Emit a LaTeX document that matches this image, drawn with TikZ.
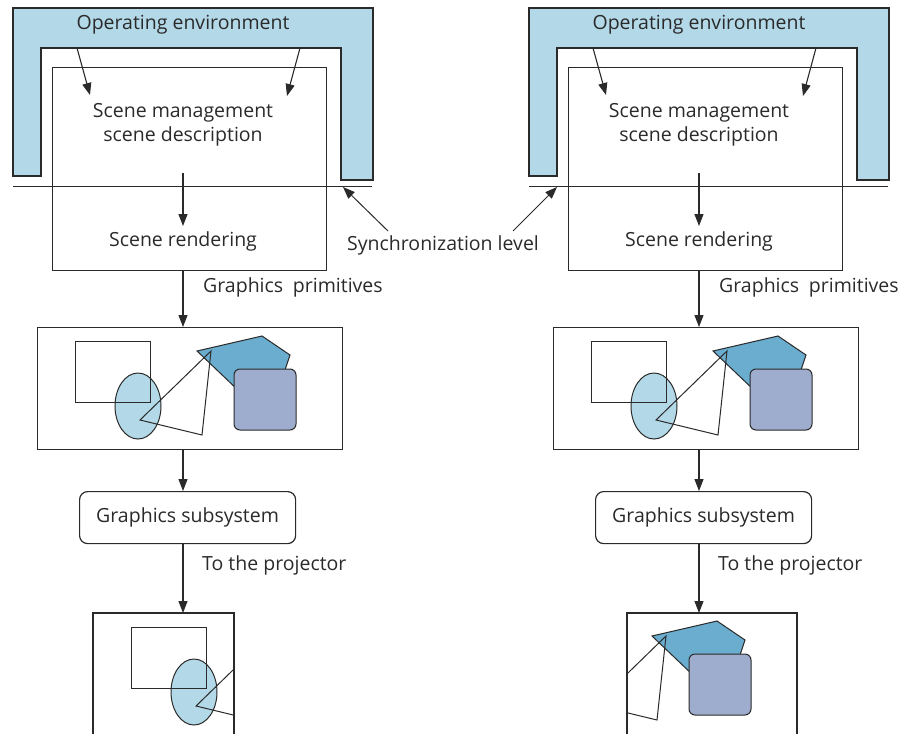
\documentclass[tikz,border=0pt]{standalone}
\usepackage{fontspec}
\setmainfont{Open Sans}
\usetikzlibrary{arrows.meta}

\definecolor{ink}{HTML}{2A2A2A}
\definecolor{envblue}{HTML}{B3D8E7}
\definecolor{ovalblue}{HTML}{B3D9E8}
\definecolor{polyblue}{HTML}{6AADCE}
\definecolor{squareblue}{HTML}{9EADCE}

\tikzset{
  outline/.style={draw=ink, line width=1.2pt},
  framebox/.style={outline, fill=white, inner sep=0pt, anchor=north west},
  lbl/.style={font=\fontsize{19.5}{24}\selectfont, text=ink, inner sep=0pt, align=center},
  arr/.style={draw=ink, line width=1.1pt, -{Triangle[length=12pt,width=9pt]}},
  thin/.style={draw=ink, line width=1pt},
}

% the sample scene of four primitives, in the coordinates of the left panel
\newcommand\scenegfx{%
  \fill[ovalblue] (138,406) ellipse [x radius=23, y radius=33];
  \draw[thin] (138,406) ellipse [x radius=23, y radius=33];
  \draw[thin] (75,341) rectangle (150,402);
  \draw[thin, fill=polyblue] (197,351) -- (262,336) -- (290,355) -- (280,385) -- (240,392) -- cycle;
  \draw[thin] (140,420) -- (211,351) -- (202,435) -- cycle;
  \draw[thin, fill=squareblue, rounded corners=6] (234,369) rectangle (296,430);
}

% one complete pipeline column; #1 is the prefix of its node names
\newcommand\pipeline[1]{%
  % operating environment frame
  \draw[outline, fill=envblue] (13,8) -- (373,8) -- (373,180) -- (341,180) -- (341,48)
        -- (41,48) -- (41,176) -- (13,176) -- cycle;
  \node[lbl] (#1env) at (183,25) {Operating environment};
  % synchronization line
  \coordinate (#1syl) at (13,186);
  \coordinate (#1syr) at (372,186);
  \draw[thin] (#1syl) -- (#1syr);
  % application box
  \node[framebox, fill=none, minimum width=274pt, minimum height=203pt] (#1app) at (52,67) {};
  \node[lbl] (#1mgmt) at (183,125) {Scene management\\scene description};
  \node[lbl] (#1rend) at (183,241) {Scene rendering};
  \coordinate (#1ax) at (183,0);
  \coordinate (#1ua) at (77,48);  \coordinate (#1ub) at (90,95);
  \coordinate (#1uc) at (300,48); \coordinate (#1ud) at (287,96);
  \draw[arr] (#1ua) -- (#1ub);
  \draw[arr] (#1uc) -- (#1ud);
  \coordinate (#1ma) at (183,173);
  \coordinate (#1mb) at (183,226);
  \draw[arr] (#1ma) -- (#1mb);
  % rendered frame
  \node[framebox, minimum width=305pt, minimum height=122pt] (#1pic) at (37,327) {};
  \scenegfx
  \draw[arr] (#1app.south -| #1ax) -- (#1pic.north -| #1ax);
  \node[lbl, anchor=west] (#1prim) at (203,287) {Graphics\hspace{0.5em}primitives};
  % graphics subsystem
  \node[framebox, rounded corners=8pt, minimum width=216pt, minimum height=52pt] (#1gfx) at (79,491) {};
  \node[lbl] at (#1gfx.center) {Graphics subsystem};
  \draw[arr] (#1pic.south -| #1ax) -- (#1gfx.north -| #1ax);
  \node[lbl, anchor=west] (#1proj) at (202,565) {To the projector};
}

\begin{document}
\begin{tikzpicture}[x=1pt, y=-1pt]
  \useasboundingbox (0,0) rectangle (916,734);

  % left column
  \pipeline{l}
  % projected view, left
  \begin{scope}
    \clip (93,613) rectangle (234,734);
    \begin{scope}[shift={(56,286)}] \scenegfx \end{scope}
  \end{scope}
  \coordinate (lva) at (93,734); \coordinate (lvb) at (93,613);
  \coordinate (lvc) at (234,613); \coordinate (lvd) at (234,734);
  \draw[outline] (lva) -- (lvb) -- (lvc) -- (lvd);
  \draw[arr] (lgfx.south -| lax) -- (lvb -| lax);

  % right column
  \begin{scope}[xshift=516]
    \pipeline{r}
  \end{scope}
  % projected view, right
  \begin{scope}
    \clip (627,613) rectangle (797,734);
    \begin{scope}[shift={(455,285)}] \scenegfx \end{scope}
  \end{scope}
  \coordinate (rva) at (627,734); \coordinate (rvb) at (627,613);
  \coordinate (rvc) at (797,613); \coordinate (rvd) at (797,734);
  \draw[outline] (rva) -- (rvb) -- (rvc) -- (rvd);
  \draw[arr] (rgfx.south -| rax) -- (rvb -| rax);

  % synchronization level callout
  \node[lbl] (sync) at (443,245) {Synchronization level};
  \coordinate (sa) at (388,231); \coordinate (sb) at (343,187);
  \coordinate (sc) at (513,231); \coordinate (sd) at (557,187);
  \draw[arr, line width=1pt] (sa) -- (sb);
  \draw[arr, line width=1pt] (sc) -- (sd);
\end{tikzpicture}
\end{document}
